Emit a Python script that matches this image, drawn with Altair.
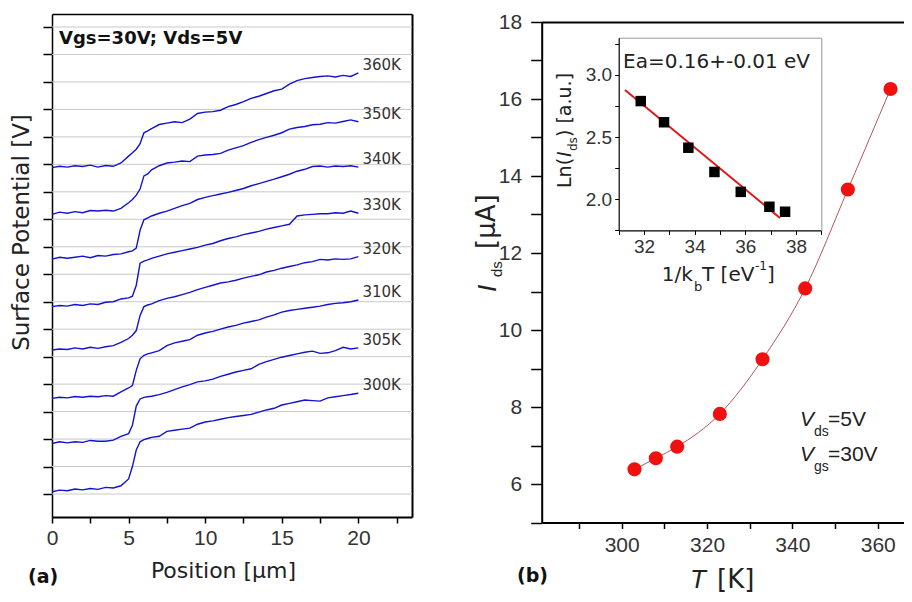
import altair as alt
import pandas as pd

W, H = 896, 586

# ---------------- panel (a): surface potential profiles ----------------
position_um = [0, 0.5, 1, 1.5, 2, 2.5, 3, 3.5, 4, 4.5, 5, 5.25, 5.5, 5.75, 6, 6.25,
               6.5, 7, 7.5, 8, 8.5, 9, 9.5, 10, 10.5, 11, 11.5, 12, 12.5, 13, 13.5,
               14, 14.5, 15, 15.5, 16, 16.5, 17, 17.5, 18, 18.5, 19, 19.5, 20]
temps = ["360K", "350K", "340K", "330K", "320K", "310K", "305K", "300K"]

sp_360K = [11.88, 11.93, 11.90, 11.95, 11.92, 11.97, 11.90, 11.96, 11.93, 12.05, 12.30,
           12.42, 12.55, 12.75, 13.15, 13.22,
           13.30, 13.45, 13.50, 13.55, 13.52, 13.65, 13.85, 13.90, 13.92, 13.97, 14.10,
           14.18, 14.28, 14.40, 14.48, 14.58, 14.68, 14.74, 14.92, 15.05, 15.12, 15.16,
           15.20, 15.22, 15.18, 15.24, 15.20, 15.33]
sp_350K = [10.18, 10.26, 10.22, 10.28, 10.24, 10.32, 10.30, 10.33, 10.30, 10.40, 10.60,
           10.72, 10.88, 11.10, 11.58, 11.65,
           11.80, 11.95, 12.05, 12.08, 12.12, 12.10, 12.30, 12.34, 12.36, 12.40, 12.52,
           12.60, 12.68, 12.80, 12.90, 12.98, 13.06, 13.15, 13.28, 13.34, 13.38, 13.44,
           13.46, 13.52, 13.50, 13.56, 13.62, 13.55]
sp_340K = [8.55, 8.62, 8.58, 8.62, 8.66, 8.60, 8.68, 8.66, 8.72, 8.74, 8.82,
           8.85, 8.95, 9.60, 9.98, 10.05,
           10.12, 10.22, 10.30, 10.40, 10.50, 10.58, 10.72, 10.80, 10.86, 10.92, 10.98,
           11.05, 11.12, 11.22, 11.30, 11.38, 11.46, 11.55, 11.64, 11.75, 11.82, 11.92,
           11.94, 11.90, 11.94, 11.92, 11.95, 11.90]
sp_330K = [6.82, 6.86, 6.84, 6.90, 6.86, 6.92, 6.90, 6.98, 7.00, 7.10, 7.14,
           7.20, 7.60, 8.40, 8.48, 8.52,
           8.58, 8.66, 8.74, 8.80, 8.86, 8.92, 8.98, 9.06, 9.12, 9.22, 9.30,
           9.36, 9.44, 9.50, 9.56, 9.64, 9.70, 9.76, 9.82, 10.12, 10.16, 10.18,
           10.20, 10.20, 10.24, 10.22, 10.30, 10.22]
sp_320K = [5.24, 5.28, 5.26, 5.32, 5.28, 5.34, 5.30, 5.36, 5.40, 5.52, 5.66,
           5.78, 5.95, 6.50, 6.82, 6.88,
           6.92, 7.04, 7.12, 7.18, 7.26, 7.34, 7.44, 7.52, 7.60, 7.68, 7.72,
           7.78, 7.86, 7.92, 7.98, 8.08, 8.14, 8.22, 8.28, 8.34, 8.42, 8.46,
           8.54, 8.52, 8.56, 8.54, 8.56, 8.64]
sp_310K = [3.48, 3.52, 3.50, 3.55, 3.52, 3.56, 3.54, 3.58, 3.56, 3.72, 3.86,
           3.95, 4.50, 4.92, 5.05, 5.10,
           5.14, 5.22, 5.40, 5.50, 5.56, 5.62, 5.78, 5.86, 5.92, 6.00, 6.08,
           6.14, 6.22, 6.28, 6.34, 6.44, 6.52, 6.62, 6.68, 6.72, 6.76, 6.80,
           6.84, 6.90, 6.94, 6.96, 7.00, 7.06]
sp_305K = [1.84, 1.90, 1.86, 1.90, 1.88, 1.95, 1.92, 1.92, 1.96, 2.10, 2.20,
           2.50, 3.20, 3.46, 3.52, 3.54,
           3.56, 3.62, 3.70, 3.80, 3.90, 3.98, 4.08, 4.12, 4.18, 4.28, 4.36,
           4.44, 4.50, 4.56, 4.72, 4.82, 4.90, 4.98, 5.04, 5.10, 5.16, 5.20,
           5.12, 5.14, 5.22, 5.34, 5.28, 5.32]
sp_300K = [0.08, 0.14, 0.12, 0.18, 0.15, 0.20, 0.17, 0.24, 0.22, 0.30, 0.55,
           1.00, 1.60, 1.90, 1.98, 2.02,
           2.06, 2.10, 2.28, 2.32, 2.36, 2.40, 2.54, 2.62, 2.66, 2.72, 2.78,
           2.82, 2.86, 2.90, 2.98, 3.06, 3.12, 3.24, 3.30, 3.36, 3.42, 3.40,
           3.38, 3.50, 3.54, 3.58, 3.62, 3.67]
left_ticks = list(range(18))
left_xticks = [0, 2.5, 5, 7.5, 10, 12.5, 15, 17.5, 20, 22.5]

# ---------------- panel (b): Ids vs T ----------------
T_K = [303, 308, 313, 323, 333, 343, 353, 363]
I_ds_uA = [6.38, 6.67, 6.97, 7.82, 9.24, 11.08, 13.65, 16.26]
right_xticks = [290, 300, 310, 320, 330, 340, 350, 360]
right_yticks = list(range(5, 19))

# inset: Arrhenius plot
inv_kT = [31.87, 32.79, 33.75, 34.78, 35.82, 36.95, 37.57]
ln_I = [2.79, 2.62, 2.415, 2.22, 2.06, 1.94, 1.90]
fit_inv_kT = [31.25, 37.37]
fit_ln_I = [2.88, 1.85]
inset_xticks = [31, 32, 33, 34, 35, 36, 37, 38, 39]
inset_yticks = [1.75, 2.0, 2.25, 2.5, 2.75, 3.0, 3.25]

series = {"360K": sp_360K, "350K": sp_350K, "340K": sp_340K, "330K": sp_330K,
          "320K": sp_320K, "310K": sp_310K, "305K": sp_305K, "300K": sp_300K}
rows = []
for t in temps:
    for x, v in zip(position_um, series[t]):
        rows.append({"temp": t, "pos": x, "sp": v})
df_sp = pd.DataFrame(rows)
df_lab = pd.DataFrame({"temp": temps, "end": [series[t][-1] for t in temps]})
df_grid = pd.DataFrame({"g": left_ticks})
df_iv = pd.DataFrame({"T": T_K, "I": I_ds_uA})
df_in = pd.DataFrame({"x": inv_kT, "y": ln_I})
df_fit = pd.DataFrame({"x": fit_inv_kT, "y": fit_ln_I})
one = pd.DataFrame({"_": [0]})


def S(domain, rng):
    return alt.Scale(domain=domain, range=rng, zero=False, nice=False)


# pixel ranges of each plotting frame
XL = ([0, 23.5], [44, 404])
YL = ([-0.837, 17.473], [509, 6])
XR = ([281.25, 366.16], [533.7, 896])
YR = ([5, 18], [514.5, 14])
XI = ([31, 39], [610.7, 813.3])
YI = ([1.75, 3.3], [222.4, 29.7])

TICKFONT = "Liberation Sans"
TXT = "#333333"


def frame_axis(orient, offset, color="black", width=1.5):
    return alt.Axis(orient=orient, offset=offset, ticks=False, labels=False, title=None,
                    grid=False, domainColor=color, domainWidth=width)


base_axis = dict(grid=False, labelFont=TICKFONT, labelColor=TXT, domainColor="black",
                 tickColor="black", labelFlush=False, labelOverlap=False)

# ---- panel (a) layers
grid = alt.Chart(df_grid).mark_rule(color="#c9c9c9", strokeWidth=1).encode(
    y=alt.Y("g:Q", scale=S(*YL), axis=frame_axis("right", -(W - 404), width=2)),
    x=alt.X(datum=0, scale=S(*XL), axis=frame_axis("top", -6)),
    x2=alt.X2(datum=23.5),
)

traces = alt.Chart(df_sp).mark_line(color="#1212d0", strokeWidth=1.4).encode(
    x=alt.X("pos:Q", scale=S(*XL), axis=alt.Axis(
        orient="bottom", offset=509 - H, values=left_xticks,
        labelExpr="datum.value % 5 == 0 ? datum.label : ''",
        tickSize=6, tickWidth=1.5, domainWidth=2, labelFontSize=21, labelPadding=4,
        title="Position [μm]", titleFont="DejaVu Sans", titleFontSize=22,
        titleFontWeight="normal", titleColor="#222", titleX=215, titleY=53,
        titleBaseline="middle", **base_axis)),
    y=alt.Y("sp:Q", scale=S(*YL), axis=alt.Axis(
        orient="left", offset=-44, values=left_ticks, labels=False, tickSize=9,
        tickWidth=1.5, domainWidth=1.5,
        title="Surface Potential [V]", titleFont="DejaVu Sans", titleFontSize=23,
        titleFontWeight="normal", titleColor="#222", titleX=13 - 44, titleY=224,
        titleBaseline="middle", **base_axis)),
    detail="temp:N",
)

labels = alt.Chart(df_lab).mark_text(align="left", baseline="middle", dx=4, dy=-8,
                                     font="DejaVu Sans", fontSize=15, color=TXT).encode(
    x=alt.X(datum=20, scale=S(*XL), axis=None),
    y=alt.Y("end:Q", scale=S(*YL), axis=None),
    text="temp:N",
)

# ---- panel (b) layers
iv_line = alt.Chart(df_iv).mark_line(color="#b05858", strokeWidth=1,
                                     interpolate="monotone").encode(
    x=alt.X("T:Q", scale=S(*XR), axis=frame_axis("top", -14, width=2)),
    y=alt.Y("I:Q", scale=S(*YR), axis=None),
)

iv_pts = alt.Chart(df_iv).mark_circle(size=200, color="#f01010", opacity=1).encode(
    x=alt.X("T:Q", scale=S(*XR), axis=alt.Axis(
        orient="bottom", offset=514.5 - H, values=right_xticks,
        labelExpr="datum.value % 20 == 0 ? datum.label : ''",
        tickSize=6, tickWidth=1.5, domainWidth=2, labelFontSize=21, labelPadding=6,
        title=None, **base_axis)),
    y=alt.Y("I:Q", scale=S(*YR), axis=alt.Axis(
        orient="left", offset=-533.7, values=right_yticks,
        labelExpr="datum.value % 2 == 0 ? datum.label : ''",
        tickSize=11, tickWidth=1.5, domainWidth=2, labelFontSize=21, labelPadding=9,
        title=None, **base_axis)),
)

# ---- inset layers
fit = alt.Chart(df_fit).mark_line(color="#e01818", strokeWidth=2).encode(
    x=alt.X("x:Q", scale=S(*XI), axis=frame_axis("top", -29.7, color="#999999", width=1)),
    y=alt.Y("y:Q", scale=S(*YI), axis=frame_axis("right", -(W - 813.3), color="#999999", width=1)),
)

squares = alt.Chart(df_in).mark_square(size=110, color="black", opacity=1).encode(
    x=alt.X("x:Q", scale=S(*XI), axis=alt.Axis(
        orient="bottom", offset=222.4 - H, values=inset_xticks,
        labelExpr="datum.value % 2 == 0 ? datum.label : ''",
        tickSize=4, tickWidth=1, domainWidth=1.2, labelFontSize=19, labelPadding=3,
        title=None, **base_axis)),
    y=alt.Y("y:Q", scale=S(*YI), axis=alt.Axis(
        orient="left", offset=-610.7, values=inset_yticks,
        labelExpr="(datum.value * 4) % 2 == 0 ? format(datum.value, '.1f') : ''",
        tickSize=4, tickWidth=1, domainWidth=1.2, labelFontSize=19, labelPadding=3,
        title=None, **base_axis)),
)


def txt(s, x, y, size, font="Liberation Sans", style="normal", weight="normal",
        angle=0, align="left", color="#222222"):
    return alt.Chart(one).mark_text(
        text=s, fontSize=size, font=font, fontStyle=style, fontWeight=weight,
        angle=angle, align=align, baseline="middle", color=color,
    ).encode(x=alt.value(x), y=alt.value(y))


DV = "DejaVu Sans"
texts = [
    txt("Vgs=30V; Vds=5V", 51, 30.5, 18, font=DV, weight="bold", color="#111"),
    txt("(a)", 20, 569, 19, font=DV, weight="bold", color="#111"),
    txt("(b)", 509, 568, 19, font=DV, weight="bold", color="#111"),
    # right y title: I_ds [µA]
    txt("I", 480, 284, 26, style="italic", angle=270),
    txt("ds", 489, 269, 15, angle=270),
    txt("[μA]", 479, 241, 26, font=DV, angle=270),
    # right x title: T [K]
    txt("T", 682, 572, 26, style="italic"),
    txt("[K]", 709, 572, 26, font=DV),
    # annotation
    txt("V", 792, 412, 21, style="italic"),
    txt("ds", 806, 424, 14),
    txt("=5V", 820, 412, 21),
    txt("V", 792, 447, 21, style="italic"),
    txt("gs", 806, 459, 14),
    txt("=30V", 820, 447, 21),
    # inset texts
    txt("Ea=0.16+-0.01 eV", 615, 53.7, 20, font=DV),
    txt("1/k", 653.7, 267, 20, font=DV),
    txt("b", 686, 279, 13, font=DV),
    txt("T [eV", 694, 267, 20, font=DV),
    txt("-1", 747, 258, 12, font=DV),
    txt("]", 759, 267, 20, font=DV),
    txt("Ln(", 557, 180, 19, font=DV, angle=270),
    txt("I", 557, 149, 19, font=DV, style="italic", angle=270),
    txt("ds", 565, 143, 12, font=DV, angle=270),
    txt(") [a.u.]", 557, 129, 19, font=DV, angle=270),
]

chart = alt.layer(grid, traces, labels, iv_line, iv_pts, fit, squares, *texts).resolve_scale(
    x="independent", y="independent"
).resolve_axis(
    x="independent", y="independent"
).properties(
    width=W, height=H, padding=0, autosize=alt.AutoSizeParams(type="none")
).configure_view(stroke=None)

chart.save("out.html", embed_options={"renderer": "svg", "actions": False})
